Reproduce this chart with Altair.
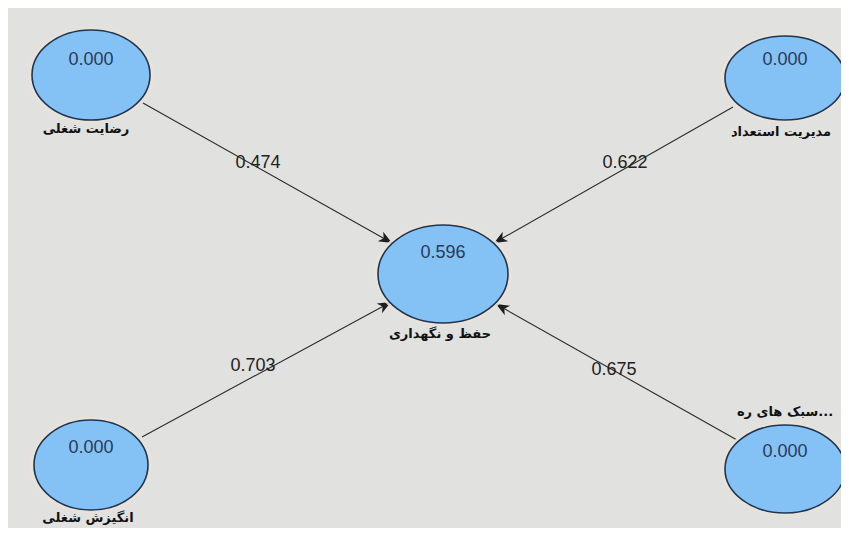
import math
import altair as alt
import pandas as pd

# ---- data ----
node_names = ["رضایت شغلی", "مدیریت استعداد", "حفظ و نگهداری", "انگیزش شغلی", "سبک های ره..."]
node_values = ["0.000", "0.000", "0.596", "0.000", "0.000"]

path_from = ["رضایت شغلی", "مدیریت استعداد", "انگیزش شغلی", "سبک های ره..."]
path_to = ["حفظ و نگهداری"] * 4
path_coef = ["0.474", "0.622", "0.703", "0.675"]

# ---- diagram layout (reference pixel coordinates) ----
node_cx = [91, 785, 443, 91, 785]
node_cy = [75, 78, 274, 465, 469]
node_rx = [59, 60, 65, 57, 60]
node_ry = [45, 42, 49, 45, 44]
value_y = [60, 60, 253, 448, 452]
label_x = [86, 781, 440, 88, 785]
label_y = [129, 132, 334, 518, 412]

edge_x1 = [143, 733, 142, 737]
edge_y1 = [103, 107, 437, 440]
edge_x2 = [392, 494, 391, 496]
edge_y2 = [243, 243, 302, 304]
coef_x = [258, 625, 253, 614]
coef_y = [163, 163, 366, 370]

K = 0.5523


def ellipse_path(ratio):
    r = ratio
    return (
        f"M 1 0 C 1 {K*r:.4f} {K:.4f} {r:.4f} 0 {r:.4f} "
        f"C {-K:.4f} {r:.4f} -1 {K*r:.4f} -1 0 "
        f"C -1 {-K*r:.4f} {-K:.4f} {-r:.4f} 0 {-r:.4f} "
        f"C {K:.4f} {-r:.4f} 1 {-K*r:.4f} 1 0 Z"
    )


nodes = pd.DataFrame({
    "name": node_names,
    "value": node_values,
    "x": node_cx,
    "y": node_cy,
    "vy": value_y,
    "lx": label_x,
    "ly": label_y,
    "size": [(2 * r) ** 2 for r in node_rx],
    "halo": [(2 * r + 8) ** 2 for r in node_rx],
    "shape": [ellipse_path(ry / rx) for rx, ry in zip(node_rx, node_ry)],
})

edges = pd.DataFrame({
    "src": path_from,
    "dst": path_to,
    "coef": path_coef,
    "x": edge_x1,
    "y": edge_y1,
    "x2": edge_x2,
    "y2": edge_y2,
    "cx": coef_x,
    "cy": coef_y,
})
edges["angle"] = [
    math.degrees(math.atan2(x2 - x1, -(y2 - y1))) % 360
    for x1, y1, x2, y2 in zip(edge_x1, edge_y1, edge_x2, edge_y2)
]

W, H = 833, 520
xs = alt.Scale(domain=[8, 8 + W], nice=False, zero=False)
ys = alt.Scale(domain=[8, 8 + H], nice=False, zero=False, reverse=True)

ARROW = "M 0 0 L 0.42 1 L 0 0.72 L -0.42 1 Z"

rules = alt.Chart(edges).mark_rule(color="#2b2b2b", strokeWidth=1.1).encode(
    x=alt.X("x:Q", scale=xs, axis=None),
    y=alt.Y("y:Q", scale=ys, axis=None),
    x2="x2:Q",
    y2="y2:Q",
)

heads = alt.Chart(edges).mark_point(
    shape=ARROW, filled=True, color="#1e1e1e", opacity=1, size=700
).encode(
    x=alt.X("x2:Q", scale=xs, axis=None),
    y=alt.Y("y2:Q", scale=ys, axis=None),
    angle=alt.Angle("angle:Q", scale=None),
)

halo = alt.Chart(nodes).mark_point(
    filled=True, color="#ece2d6", opacity=0.9, strokeWidth=0
).encode(
    x=alt.X("x:Q", scale=xs, axis=None),
    y=alt.Y("y:Q", scale=ys, axis=None),
    size=alt.Size("halo:Q", scale=None),
    shape=alt.Shape("shape:N", scale=None),
)

ellipses = alt.Chart(nodes).mark_point(
    filled=True, fill="#84c2f6", stroke="#1d3654", strokeWidth=1.6, opacity=1
).encode(
    x=alt.X("x:Q", scale=xs, axis=None),
    y=alt.Y("y:Q", scale=ys, axis=None),
    size=alt.Size("size:Q", scale=None),
    shape=alt.Shape("shape:N", scale=None),
)

values = alt.Chart(nodes).mark_text(
    font="Liberation Sans", fontSize=18, color="#2a3a58", align="center", baseline="middle"
).encode(
    x=alt.X("x:Q", scale=xs, axis=None),
    y=alt.Y("vy:Q", scale=ys, axis=None),
    text="value:N",
)

labels = alt.Chart(nodes).mark_text(
    font="DejaVu Sans", fontSize=13, fontWeight="bold", color="#111111",
    align="center", baseline="middle"
).encode(
    x=alt.X("lx:Q", scale=xs, axis=None),
    y=alt.Y("ly:Q", scale=ys, axis=None),
    text="name:N",
)

coefs = alt.Chart(edges).mark_text(
    font="Liberation Sans", fontSize=18, color="#222222", align="center", baseline="middle"
).encode(
    x=alt.X("cx:Q", scale=xs, axis=None),
    y=alt.Y("cy:Q", scale=ys, axis=None),
    text="coef:N",
)

chart = alt.layer(rules, heads, halo, ellipses, values, labels, coefs).properties(
    width=W,
    height=H,
    padding=0,
    background="#e1e1df",
    autosize=alt.AutoSizeParams(type="none"),
).configure_view(stroke=None)

chart.save("out.html", embed_options={"renderer": "svg", "actions": False})
